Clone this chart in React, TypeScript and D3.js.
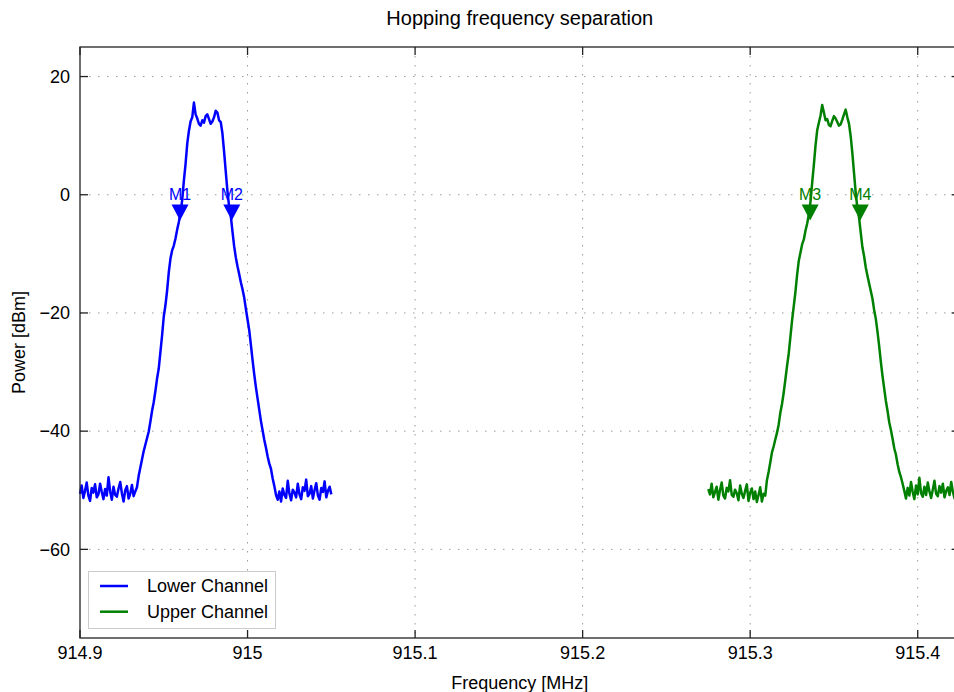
import * as d3 from 'd3';

// sweep settings (1 kHz bins)
const lowerStart = 914.9;
const upperStart = 915.275;
const binStep = 0.001;

// measured trace, dBm
const lowerPower = [
  -50.6, -49.2, -51.3, -50.1, -48.7, -50.9, -51.8, -49.6, -50.4, -49.0, -51.2, -50.7, -48.9, -50.3, -51.5, -49.8, -50.9,
  -47.8, -50.2, -51.6, -49.4, -50.8, -51.1, -49.7, -48.6, -50.5, -51.9, -50.0, -49.3, -51.4, -50.6, -49.1, -51.0, -50.2,
  -49.5, -47.6, -46.2, -44.8, -43.4, -42.3, -41.2, -40.1, -38.4, -36.6, -35.1, -33.2, -31.1, -29.4, -26.6, -23.8, -20.6,
  -18.7, -16.2, -13.1, -10.8, -9.4, -8.6, -7.4, -5.9, -4.6, -3.0, -0.9, 2.4, 5.2, 8.6, 10.8, 12.4, 13.1, 15.6, 13.6, 12.9,
  12.0, 11.7, 12.6, 12.2, 13.3, 13.6, 12.8, 12.0, 12.4, 13.1, 14.2, 13.9, 12.6, 12.3, 10.4, 7.3, 3.9, 0.6, -2.0, -3.6,
  -6.2, -8.7, -10.6, -12.1, -13.4, -14.8, -16.0, -17.4, -19.3, -21.1, -22.9, -25.4, -28.0, -30.4, -32.6, -34.5, -36.4,
  -38.3, -39.9, -41.5, -42.8, -44.3, -45.5, -46.4, -48.0, -49.3, -50.8,
  -51.6, -50.2, -51.9, -49.7, -50.8, -51.3, -48.4, -50.6, -51.7, -49.9, -50.4, -51.2, -48.9, -50.7, -51.5, -49.5, -50.1,
  -48.2, -51.0, -50.6, -49.3, -51.4, -50.0, -48.8, -50.9, -51.6, -49.6, -50.3, -48.5, -51.2, -50.1, -49.4, -50.7,
];

const upperPower = [
  -49.8, -50.7, -48.9, -51.2, -50.3, -49.4, -51.6, -50.0, -48.7, -50.9, -51.4, -49.6, -50.2, -48.3, -50.8, -51.1, -49.9,
  -50.5, -51.7, -49.2, -50.6, -51.3, -50.1, -49.0, -51.8, -50.4, -49.7, -51.5, -50.2, -52.0, -50.8, -49.5, -51.9, -50.6,
  -50.9, -48.3, -46.9, -45.3, -43.6, -42.6, -41.4, -40.3, -38.9, -36.9, -35.4, -33.5, -31.3, -29.0, -26.9, -24.1, -21.3,
  -18.9, -16.5, -13.6, -11.2, -9.8, -8.4, -7.6, -6.1, -4.9, -3.4, -1.2, 2.0, 5.0, 8.3, 10.9, 12.2, 13.4, 15.2, 13.9, 12.6,
  12.8, 11.8, 11.6, 12.5, 13.3, 12.9, 12.3, 11.7, 11.9, 12.7, 13.6, 14.4, 13.1, 12.0, 9.9, 7.0, 3.6, 0.3, -2.3, -3.9,
  -6.4, -8.9, -10.4, -12.3, -13.7, -15.0, -16.3, -17.6, -19.5, -21.0, -23.2, -25.6, -28.3, -30.7, -32.8, -34.9, -36.6,
  -38.5, -39.8, -41.3, -42.9, -44.0, -45.6, -46.9, -47.8, -48.9, -50.1,
  -51.4, -49.6, -50.9, -48.6, -50.3, -51.5, -49.2, -50.7, -47.9, -50.5, -51.1, -49.4, -50.8, -48.7, -50.2, -51.3, -49.9,
  -48.4, -50.6, -51.0, -49.3, -50.4, -48.9, -51.2, -50.1, -49.5, -50.8, -48.6, -50.3, -51.4, -49.7, -50.2, -49.0,
];

const markerLabels = ['M1', 'M2', 'M3', 'M4'];
const markerFreqs = [914.9597, 914.9906, 915.3358, 915.3657];
const markerPower = [-3, -3, -3, -3];
const markerChannel = [0, 0, 1, 1];

const channelNames = ['Lower Channel', 'Upper Channel'];
const channelColors = ['#0000ff', '#008000'];

const xTicks = [914.9, 915, 915.1, 915.2, 915.3, 915.4];
const yTicks = [20, 0, -20, -40, -60];

const W = 954, H = 692;
const left = 80, top = 47, bottom = 638, right = 959.6;
const font = '"Liberation Sans", Arial, Helvetica, sans-serif';

export default function App() {
  const x = d3.scaleLinear().domain([914.9, 915.425]).range([left, right]);
  const y = d3.scaleLinear().domain([-75, 25]).range([bottom, top]);

  const traces = [
    lowerPower.map((p, i) => [lowerStart + i * binStep, p] as [number, number]),
    upperPower.map((p, i) => [upperStart + i * binStep, p] as [number, number]),
  ];
  const line = d3.line<[number, number]>().x(d => x(d[0])).y(d => y(d[1]));
  const fmtY = (v: number) => (v < 0 ? '\u2212' + Math.abs(v) : String(v));
  const grid = '#9a9a9a';
  const tri = 'M-8.5,-8L8.5,-8L0,8Z'; // 'v' marker

  return (
    <svg width={W} height={H} style={{ position: 'absolute', left: 0, top: 0, background: '#fff' }} fontFamily={font}>
      <rect width={W} height={H} fill="#fff" />
      <text x={(left + right) / 2} y={25} textAnchor="middle" fontSize={20} fill="#000">Hopping frequency separation</text>

      {/* grid */}
      {xTicks.filter(t => t > 914.9).map(t => (
        <line key={'gx' + t} x1={x(t)} x2={x(t)} y1={top} y2={bottom} stroke={grid} strokeWidth={1} strokeDasharray="1.5,7.5" />
      ))}
      {yTicks.map(t => (
        <line key={'gy' + t} x1={left} x2={right} y1={y(t)} y2={y(t)} stroke={grid} strokeWidth={1} strokeDasharray="1.5,7.5" />
      ))}

      {/* traces */}
      {traces.map((tr, k) => (
        <path key={k} d={line(tr) || ''} fill="none" stroke={channelColors[k]} strokeWidth={2.5} strokeLinejoin="round" />
      ))}

      {/* markers */}
      {markerLabels.map((m, i) => {
        const c = channelColors[markerChannel[i]];
        const mx = x(markerFreqs[i]), my = y(markerPower[i]);
        return (
          <g key={m}>
            <path d={tri} transform={`translate(${mx},${my})`} fill={c} />
            <text x={mx} y={my - 12} textAnchor="middle" fontSize={16} fill={c}>{m}</text>
          </g>
        );
      })}

      {/* spines */}
      <rect x={left} y={top} width={right - left} height={bottom - top} fill="none" stroke="#222" strokeWidth={1.3} />

      {/* ticks */}
      {xTicks.map(t => (
        <g key={'tx' + t}>
          <line x1={x(t)} x2={x(t)} y1={bottom} y2={bottom - 8} stroke="#222" strokeWidth={1.3} />
          <line x1={x(t)} x2={x(t)} y1={top} y2={top + 8} stroke="#222" strokeWidth={1.3} />
          <text x={x(t)} y={659} textAnchor="middle" fontSize={18} fill="#000">{String(t)}</text>
        </g>
      ))}
      {yTicks.map(t => (
        <g key={'ty' + t}>
          <line x1={left} x2={left + 8} y1={y(t)} y2={y(t)} stroke="#222" strokeWidth={1.3} />
          <line x1={right} x2={right - 8} y1={y(t)} y2={y(t)} stroke="#222" strokeWidth={1.3} />
          <text x={70} y={y(t)} dy="0.35em" textAnchor="end" fontSize={18} fill="#000">{fmtY(t)}</text>
        </g>
      ))}

      <text x={(left + right) / 2} y={689} textAnchor="middle" fontSize={18} fill="#000">Frequency [MHz]</text>
      <text transform={`translate(25,${(top + bottom) / 2}) rotate(-90)`} textAnchor="middle" fontSize={18} fill="#000">Power [dBm]</text>

      {/* legend */}
      <g>
        <rect x={88.5} y={571.5} width={187} height={57} fill="#fff" stroke="#cccccc" strokeWidth={1} />
        {channelNames.map((n, k) => (
          <g key={n}>
            <line x1={100} x2={128} y1={586 + k * 25.7} y2={586 + k * 25.7} stroke={channelColors[k]} strokeWidth={2.5} />
            <text x={147} y={586 + k * 25.7} dy="0.35em" fontSize={18} fill="#000">{n}</text>
          </g>
        ))}
      </g>
    </svg>
  );
}
